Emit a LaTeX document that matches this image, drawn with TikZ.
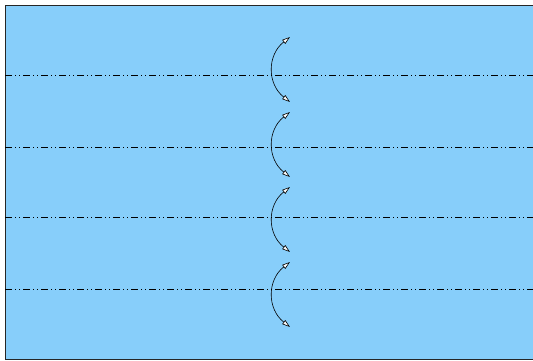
\documentclass[tikz,border=0pt]{standalone}
\usetikzlibrary{arrows.meta}
\definecolor{skyfill}{RGB}{135,206,250}

\begin{document}
\begin{tikzpicture}[x=1pt, y=-1pt,
    axisline/.style={line width=0.6pt, dash pattern=on 7pt off 3pt on 1pt off 3pt on 1pt off 3pt},
    swing/.style={line width=0.6pt,
      {Triangle[open, fill=white, length=8pt, width=5pt]}-{Triangle[open, fill=white, length=8pt, width=5pt]}}]

\useasboundingbox (0,0) rectangle (533,361);
\clip (0,0) rectangle (533,361);

% ---- sheet ----
\fill[skyfill] (5,5) rectangle (540,359);
\draw[line width=0.8pt, black!85] (540,5) -- (5,5) -- (5,359) -- (540,359);

% ---- axis lines ----
\foreach \yl in {75,147,217,289} {
  \draw[axisline] (5,\yl) -- (533,\yl);
}

% ---- rotation arcs ----
\foreach \ya in {37,112,187,262} {
  \draw[swing] (290,\ya) .. controls (267,\ya+18) and (267,\ya+47) .. (290,\ya+65);
}

\end{tikzpicture}
\end{document}
